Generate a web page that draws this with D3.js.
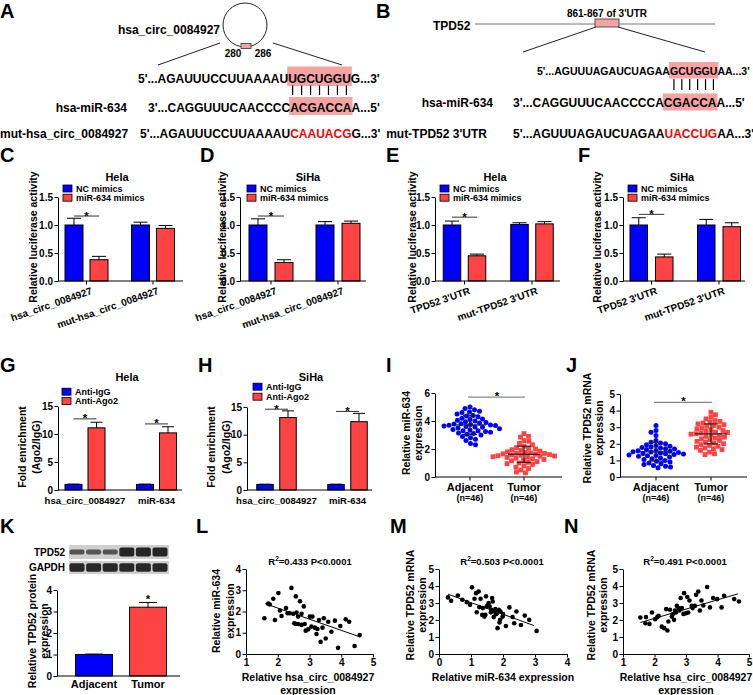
<!DOCTYPE html>
<html><head><meta charset="utf-8">
<script src="https://cdn.jsdelivr.net/npm/d3@7"></script>
<style>
body{margin:0;background:#fff}
svg{display:block}
text{font-family:"Liberation Sans",Arial,Helvetica,sans-serif;font-weight:bold;fill:#000}
</style>
</head><body><script>
// ---------------- DATA ----------------
const panelLetters=["A","B","C","D","E","F","G","H","I","J","K","L","M","N"];

// A / B sequences
const seqA_rows=[["5'...AGAUUUCCUUAAAAU","UGCUGGU","G...3'"],["3'...CAGGUUUCAACCCC","ACGACCA","A...5'"],["5'...AGAUUUCCUUAAAAU","CAAUACG","G...3'"]];
const seqA_labels=["hsa_circ_0084927","hsa-miR-634","mut-hsa_circ_0084927"];
const siteA=["280","286"];
const seqB_rows=[["5'...AGUUUAGAUCUAGAA","GCUGGU","AA...3'"],["3'...CAGGUUUCAACCCCA","CGACCA","A...5'"],["5'...AGUUUAGAUCUAGAA","UACCUG","AA...3'"]];
const seqB_labels=["TPD52","hsa-miR-634","mut-TPD52 3'UTR","861-867 of 3'UTR"];

// C-F luciferase
const lucGroupsCD=["hsa_circ_0084927","mut-hsa_circ_0084927"];
const lucGroupsEF=["TPD52 3'UTR","mut-TPD52 3'UTR"];
const lucSeries=["NC mimics","miR-634 mimics"];
const lucTicks=[0,0.5,1.0,1.5];
const lucC_mean=[[1.00,0.38],[1.00,0.94]], lucC_err=[[0.12,0.06],[0.05,0.05]];
const lucD_mean=[[1.00,0.33],[1.00,1.03]], lucD_err=[[0.11,0.05],[0.06,0.04]];
const lucE_mean=[[1.00,0.45],[1.01,1.02]], lucE_err=[[0.07,0.03],[0.03,0.04]];
const lucF_mean=[[1.00,0.43],[1.00,0.97]], lucF_err=[[0.13,0.05],[0.10,0.07]];

// G-H RIP
const ripGroups=["hsa_circ_0084927","miR-634"];
const ripSeries=["Anti-IgG","Anti-Ago2"];
const ripTicks=[0,5,10,15];
const ripG_mean=[[1.0,11.1],[1.0,10.2]], ripG_err=[[0.05,1.0],[0.05,1.1]];
const ripH_mean=[[1.0,13.1],[1.0,12.35]], ripH_err=[[0.05,1.2],[0.05,1.5]];

// I / J dot plots
const tissueGroups=["Adjacent","Tumor"];
const nLabels=["(n=46)","(n=46)"];
const iAdjacent=[5.0,4.9,4.8,4.7,4.65,4.6,4.5,4.4,4.35,4.3,4.2,4.15,4.1,4.05,4.0,3.95,3.9,3.85,3.8,3.78,3.75,3.72,3.7,3.68,3.65,3.6,3.58,3.55,3.5,3.45,3.4,3.35,3.3,3.3,3.25,3.2,3.15,3.1,3.05,3.0,2.9,2.8,2.7,2.6,2.4,2.3];
const iTumor=[3.1,2.9,2.85,2.6,2.55,2.4,2.3,2.2,2.1,2.05,2.0,1.95,1.9,1.85,1.8,1.75,1.72,1.7,1.68,1.65,1.62,1.6,1.58,1.55,1.52,1.5,1.48,1.45,1.42,1.4,1.35,1.3,1.25,1.2,1.15,1.1,1.05,1.0,0.95,0.9,0.8,0.7,0.6,0.5,0.35,0.3];
const iMean=[3.72,1.62], iSD=[0.68,0.58];
const jAdjacent=[3.1,2.8,2.7,2.5,2.2,2.1,2.05,2.0,1.95,1.9,1.85,1.8,1.78,1.75,1.7,1.68,1.65,1.6,1.58,1.55,1.52,1.5,1.48,1.45,1.42,1.4,1.38,1.35,1.32,1.3,1.28,1.25,1.2,1.15,1.1,1.05,1.0,0.95,0.9,0.85,0.8,0.75,0.7,0.65,0.6,0.55];
const jTumor=[3.9,3.75,3.6,3.5,3.4,3.35,3.3,3.25,3.2,3.15,3.1,3.05,3.0,2.95,2.9,2.85,2.8,2.75,2.7,2.68,2.65,2.6,2.58,2.55,2.5,2.45,2.4,2.35,2.3,2.25,2.2,2.15,2.1,2.05,2.0,1.95,1.9,1.85,1.8,1.75,1.7,1.65,1.6,1.5,1.4,1.35];
const jMean=[1.52,2.6], jSD=[0.56,0.6];

// K western blot + bars
const blotRows=["TPD52","GAPDH"];
const blotTPD52=[0.35,0.3,0.33,1,1,1];
const blotGAPDH=[0.95,0.95,0.95,0.95,0.95,0.95];
const kGroups=["Adjacent","Tumor"];
const kMean=[1.0,3.2], kErr=[0.02,0.22];
const kTicks=[0,1,2,3,4];

// L / M / N correlations
const lX=[1.58,1.70,1.75,1.86,2.02,1.91,2.12,2.07,2.26,2.43,2.57,2.70,2.82,2.38,2.49,2.59,2.64,2.75,2.57,2.64,2.75,2.85,2.88,2.96,3.01,3.09,3.17,3.22,3.30,3.41,3.45,3.35,3.51,3.59,3.69,3.80,3.90,3.97,4.14,4.25,4.42,4.58,2.31,3.06,2.52,3.25];
const lY=[1.68,2.37,2.33,2.60,2.87,1.60,1.79,2.05,2.16,3.11,2.71,2.48,2.24,1.92,1.89,1.95,1.76,1.89,1.41,1.41,1.37,1.41,1.10,1.16,1.76,1.76,1.24,0.94,1.60,1.24,1.68,0.57,0.73,1.52,1.05,1.57,0.29,1.32,1.63,1.52,0.38,0.89,1.92,1.29,1.45,1.18];
const lFit=[[1.6,2.37],[4.58,0.81]];
const mX=[0.28,0.38,0.59,0.73,0.87,0.97,1.03,1.11,1.16,1.24,1.18,1.26,1.30,1.37,1.42,1.45,1.49,1.47,1.55,1.58,1.63,1.66,1.68,1.71,1.73,1.76,1.78,1.81,1.83,1.89,1.87,1.91,1.99,2.09,2.20,2.30,2.35,2.42,2.56,2.68,2.82,3.05,1.35,1.62,2.00,1.92];
const mY=[3.33,3.13,3.44,3.19,3.05,2.89,3.92,3.25,3.58,3.68,2.46,2.76,3.25,2.70,2.20,2.30,2.80,3.39,2.99,2.80,2.60,3.29,3.09,2.17,2.50,2.64,2.34,2.40,1.52,1.85,2.60,2.01,2.20,1.65,2.74,2.17,1.81,2.50,1.71,2.26,2.01,1.36,2.30,2.45,2.35,2.50];
const mFit=[[0.28,3.52],[2.97,1.67]];
const nX=[1.55,1.71,1.73,1.84,1.92,2.02,2.09,2.13,2.23,2.31,2.37,2.41,2.44,2.49,2.55,2.58,2.62,2.68,2.71,2.76,2.79,2.83,2.87,2.92,2.94,3.00,3.04,3.07,3.11,3.18,3.21,3.28,3.32,3.39,3.44,3.49,3.55,3.67,3.76,3.86,3.99,4.13,4.21,4.53,4.68,2.65];
const nY=[2.15,1.81,2.17,1.77,2.44,2.05,2.17,2.24,1.61,1.52,2.64,1.38,1.91,2.60,2.20,2.34,2.01,2.44,2.83,2.70,2.56,3.29,2.70,2.36,3.58,2.40,3.35,2.44,3.15,2.83,2.70,2.83,3.48,3.68,2.56,3.15,2.85,3.94,2.74,3.29,3.23,2.74,3.43,3.23,3.09,2.55];
const nFit=[[1.55,1.85],[4.65,3.54]];
const corrStats=[["0.433","P<0.0001"],["0.503","P<0.0001"],["0.491","P<0.0001"]];

// ---------------- DRAW ----------------
const BLUE="#0000ff", RED="#ff4242", PINK="#f5a3a3";
const svg=d3.select("body").append("svg").attr("width",753).attr("height",695);
const meas=svg.append("text").attr("visibility","hidden");
function tw(s,fs){meas.attr("font-size",fs).text(s);return meas.node().getComputedTextLength();}

// panel letters
const letterPos=[[0,18],[376,18],[0,162],[200,162],[386,162],[578,162],[0,372],[198,372],[386,372],[566,372],[0,533],[196,533],[390,533],[564,533]];
svg.selectAll(".pl").data(panelLetters).join("text").attr("class","pl")
  .attr("x",(d,i)=>letterPos[i][0]).attr("y",(d,i)=>letterPos[i][1]).attr("font-size",20).text(d=>d);

function seqRow(g,x,y,segs,kind,opts){
  let fs=12;
  if(opts.len) fs=12*opts.len/tw(segs.join(""),12);
  const widths=segs.map(s=>tw(s,fs));
  const starts=[x,x+widths[0],x+widths[0]+widths[1]];
  if(kind==="hl"){
    g.append("rect").attr("x",starts[1]-1).attr("y",y+opts.top).attr("width",widths[1]+2).attr("height",opts.h).attr("fill",PINK);
  }
  segs.forEach((s,i)=>{
    g.append("text").attr("x",starts[i]).attr("y",y).attr("font-size",fs).text(s)
      .style("fill",(kind==="red"&&i===1)?"#ff0000":"#000");
  });
  return {x0:starts[1],w:widths[1],n:segs[1].length};
}

// ---- A
const gA=svg.append("g");
gA.append("circle").attr("cx",245).attr("cy",25).attr("r",22).attr("fill","none").attr("stroke","#222").attr("stroke-width",1);
gA.append("rect").attr("x",241).attr("y",43.5).attr("width",10).attr("height",5).attr("fill",PINK).attr("stroke","#333").attr("stroke-width",0.8);
gA.append("text").attr("x",233).attr("y",57).attr("font-size",10).attr("text-anchor","middle").text(siteA[0]);
gA.append("text").attr("x",263).attr("y",57).attr("font-size",10).attr("text-anchor","middle").text(siteA[1]);
gA.append("line").attr("x1",220).attr("y1",43).attr("x2",158).attr("y2",65).attr("stroke","#222");
gA.append("line").attr("x1",273).attr("y1",43).attr("x2",342).attr("y2",65).attr("stroke","#222");
gA.append("text").attr("x",220).attr("y",33.5).attr("font-size",12).attr("text-anchor","end").text(seqA_labels[0]);
const a1=seqRow(gA,138,82.5,seqA_rows[0],"hl",{top:-16,h:19.5});
seqRow(gA,148,111.5,seqA_rows[1],"hl",{top:-14.5,h:18});
seqRow(gA,140,137.5,seqA_rows[2],"red",{});
gA.append("text").attr("x",127).attr("y",111.5).attr("font-size",12).attr("text-anchor","end").text(seqA_labels[1]);
gA.append("text").attr("x",0).attr("y",137.5).attr("font-size",12).text(seqA_labels[2]);
d3.range(a1.n).forEach(i=>{const cx=a1.x0+(i+0.5)*a1.w/a1.n;
  gA.append("line").attr("x1",cx).attr("x2",cx).attr("y1",85.5).attr("y2",95).attr("stroke","#000").attr("stroke-width",1.2);});

// ---- B
const gB=svg.append("g");
gB.append("line").attr("x1",475).attr("x2",715).attr("y1",24).attr("y2",24).attr("stroke","#777").attr("stroke-width",1);
gB.append("rect").attr("x",595).attr("y",19).attr("width",24).attr("height",8).attr("fill",PINK).attr("stroke","#333").attr("stroke-width",0.8);
gB.append("text").attr("x",607).attr("y",16.5).attr("font-size",10).attr("text-anchor","middle").text(seqB_labels[3]);
gB.append("text").attr("x",433).attr("y",29.5).attr("font-size",12).text(seqB_labels[0]);
gB.append("line").attr("x1",596).attr("y1",27).attr("x2",523).attr("y2",52).attr("stroke","#222");
gB.append("line").attr("x1",618).attr("y1",27).attr("x2",705).attr("y2",52).attr("stroke","#222");
const b1=seqRow(gB,537,74.5,seqB_rows[0],"hl",{top:-12.5,h:16.5,len:213});
seqRow(gB,513,106.5,seqB_rows[1],"hl",{top:-13,h:17});
seqRow(gB,513,137.5,seqB_rows[2],"red",{});
gB.append("text").attr("x",493).attr("y",106.5).attr("font-size",12).attr("text-anchor","end").text(seqB_labels[1]);
gB.append("text").attr("x",487).attr("y",137.5).attr("font-size",12).attr("text-anchor","end").text(seqB_labels[2]);
d3.range(b1.n).forEach(i=>{const cx=b1.x0+(i+0.5)*b1.w/b1.n;
  gB.append("line").attr("x1",cx).attr("x2",cx).attr("y1",79).attr("y2",90).attr("stroke","#000").attr("stroke-width",1.2);});

// ---- axis helpers
function styleAxis(a,fs){
  a.attr("font-family",null).attr("font-size",null);
  a.selectAll("text").attr("font-size",fs||10).style("fill","#000");
  a.selectAll("line,path").attr("stroke","#000").attr("stroke-width",1);
}
function leftAxis(g,x,ys,ticks,fmt){
  const a=g.append("g").attr("transform",`translate(${x},0)`)
    .call(d3.axisLeft(ys).tickValues(ticks).tickFormat(fmt).tickSize(3.5).tickSizeOuter(0).tickPadding(1.5));
  styleAxis(a,10);return a;
}
function bottomAxis(g,y,xs,ticks,fmt){
  const a=g.append("g").attr("transform",`translate(0,${y})`)
    .call(d3.axisBottom(xs).tickValues(ticks).tickFormat(fmt).tickSize(3.5).tickSizeOuter(0).tickPadding(1.5));
  styleAxis(a,10);return a;
}
function yTitle(g,lines,xs,cy,fs){
  lines.forEach((l,i)=>g.append("text").attr("font-size",fs).attr("text-anchor","middle")
    .attr("transform",`translate(${xs[i]+4},${cy}) rotate(-90)`).text(l));
}
function legend(g,x,ys,items,colors){
  items.forEach((it,i)=>{
    g.append("rect").attr("x",x).attr("y",ys[i]-3.5).attr("width",9).attr("height",7).attr("fill",colors[i]).attr("stroke","#000").attr("stroke-width",0.8);
    g.append("text").attr("x",x+13).attr("y",ys[i]+3.2).attr("font-size",9).text(it);
  });
}

// ---- grouped bar panels
function barPanel(c){
  const g=svg.append("g");
  const ys=d3.scaleLinear().domain([0,c.max]).range([c.y0,c.yTop]);
  const gx=d3.scalePoint().domain(c.groups).range(c.centers);
  const tot=2*c.bw+c.gap;
  const sx=d3.scaleBand().domain(c.series).range([-tot/2,tot/2]).paddingInner(c.gap/(c.bw+c.gap)).paddingOuter(0);
  const cols=[BLUE,RED];
  const data=[];
  c.groups.forEach((gr,gi)=>c.series.forEach((s,si)=>data.push({gr,s,si,v:c.mean[gi][si],e:c.err[gi][si]})));
  g.selectAll(".bar").data(data).join("rect")
    .attr("x",d=>gx(d.gr)+sx(d.s)).attr("width",sx.bandwidth())
    .attr("y",d=>ys(d.v)).attr("height",d=>c.y0-ys(d.v))
    .attr("fill",d=>cols[d.si]).attr("stroke","#000").attr("stroke-width",1);
  data.forEach(d=>{
    const cx=gx(d.gr)+sx(d.s)+sx.bandwidth()/2;
    g.append("line").attr("x1",cx).attr("x2",cx).attr("y1",ys(d.v)).attr("y2",ys(d.v+d.e)).attr("stroke","#000");
    g.append("line").attr("x1",cx-c.cap/2).attr("x2",cx+c.cap/2).attr("y1",ys(d.v+d.e)).attr("y2",ys(d.v+d.e)).attr("stroke","#000");
  });
  leftAxis(g,c.x0,ys,c.ticks,c.fmt);
  g.append("line").attr("x1",c.x0).attr("x2",c.x1).attr("y1",c.y0).attr("y2",c.y0).attr("stroke","#000");
  if(c.xticks) c.groups.forEach(gr=>g.append("line").attr("x1",gx(gr)).attr("x2",gx(gr)).attr("y1",c.y0).attr("y2",c.y0+3.5).attr("stroke","#000"));
  c.sig.forEach(sg=>{
    const gr=c.groups[sg[0]];
    const xa=gx(gr)+sx(c.series[0])+sx.bandwidth()/2, xb=gx(gr)+sx(c.series[1])+sx.bandwidth()/2;
    g.append("line").attr("x1",xa).attr("x2",xb).attr("y1",ys(sg[1])).attr("y2",ys(sg[1])).attr("stroke","#333").attr("stroke-width",1);
    g.append("text").attr("x",(xa+xb)/2).attr("y",ys(sg[1])+3.5).attr("font-size",11.5).attr("text-anchor","middle").text("*");
  });
  g.append("text").attr("x",c.titleX).attr("y",c.titleY).attr("font-size",11).attr("text-anchor","middle").text(c.title);
  legend(g,c.legX,c.legY,c.series,cols);
  yTitle(g,c.yTitle,c.yTitleX,c.yTitleY,10.5);
  if(c.rot){
    g.selectAll(".xl").data(c.groups).join("text").attr("font-size",10).attr("text-anchor","end")
      .attr("transform",d=>`translate(${gx(d)+4},${c.y0+6}) rotate(-19)`).attr("dy","0.71em").text(d=>d);
  } else {
    g.selectAll(".xl").data(c.groups).join("text").attr("font-size",9.5).attr("text-anchor","middle")
      .attr("x",d=>gx(d)).attr("y",c.y0+14).text(d=>d);
  }
}
const fmt1=d3.format(".1f"), fmt0=d3.format("d");
const lucCommon={series:lucSeries,max:1.5,ticks:lucTicks,fmt:fmt1,y0:281,yTop:197,cap:14,titleY:180.5,legY:[188.5,197.7],yTitle:["Relative luciferase activity"],yTitleY:237,xticks:true,rot:true};
barPanel({...lucCommon,groups:lucGroupsCD,mean:lucC_mean,err:lucC_err,sig:[[0,1.16]],x0:58,x1:183,centers:[86.5,153],bw:18,gap:7,title:"Hela",titleX:117,legX:63,yTitleX:[33]});
barPanel({...lucCommon,groups:lucGroupsCD,mean:lucD_mean,err:lucD_err,sig:[[0,1.16]],x0:240,x1:366,centers:[271,338],bw:18,gap:8,title:"SiHa",titleX:308,legX:247,yTitleX:[222]});
barPanel({...lucCommon,groups:lucGroupsEF,mean:lucE_mean,err:lucE_err,sig:[[0,1.14]],x0:435,x1:560,centers:[464.5,532],bw:17.5,gap:7.5,title:"Hela",titleX:495,legX:440,yTitleX:[412]});
barPanel({...lucCommon,groups:lucGroupsEF,mean:lucF_mean,err:lucF_err,sig:[[0,1.19]],x0:623,x1:745,centers:[651.5,719],bw:17.5,gap:8,title:"SiHa",titleX:682,legX:628,yTitleX:[597]});
const ripCommon={series:ripSeries,max:15,ticks:ripTicks,fmt:fmt0,y0:490,cap:12,titleY:381,yTitle:["Fold enrichment","(Ago2/IgG)"],yTitleY:447,xticks:false,rot:false};
barPanel({...ripCommon,groups:ripGroups,mean:ripG_mean,err:ripG_err,sig:[[0,12.7],[1,11.8]],x0:58,x1:182,yTop:406,centers:[85,156.5],bw:17,gap:6,title:"Hela",titleX:127,legX:62,legY:[391.7,401],yTitleX:[22,36]});
barPanel({...ripCommon,groups:ripGroups,mean:ripH_mean,err:ripH_err,sig:[[0,14.6],[1,14.2]],x0:247,x1:372,yTop:407,centers:[276.5,347.5],bw:16.5,gap:6.5,title:"SiHa",titleX:311,legX:253,legY:[386.7,396.7],yTitleX:[211,226]});

// ---- dot plots I, J
function swarm(vals,ys,cx,d){
  const placed=[];
  const order=vals.map((v,i)=>i).sort((a,b)=>vals[b]-vals[a]);
  order.forEach(i=>{
    const y=ys(vals[i]);
    let best=null;
    for(let k=0;k<400 && best===null;k++){
      const offs=k===0?[0]:(k%2?[k*0.5,-k*0.5]:[-k*0.5,k*0.5]);
      for(const o of offs){
        if(placed.every(p=>(p.x-(cx+o))**2+(p.y-y)**2>=d*d)){best=o;break;}
      }
    }
    placed.push({x:cx+best,y,v:vals[i]});
  });
  return placed;
}
function dotPanel(c){
  const g=svg.append("g");
  const ys=d3.scaleLinear().domain([0,c.max]).range([c.y0,c.yTop]);
  const gx=d3.scalePoint().domain(tissueGroups).range(c.centers);
  leftAxis(g,c.x0,ys,c.ticks,fmt0);
  g.append("line").attr("x1",c.x0).attr("x2",c.x1).attr("y1",c.y0).attr("y2",c.y0).attr("stroke","#000");
  tissueGroups.forEach(t=>g.append("line").attr("x1",gx(t)).attr("x2",gx(t)).attr("y1",c.y0).attr("y2",c.y0+3.5).attr("stroke","#000"));
  const pa=swarm(c.adj,ys,gx("Adjacent"),c.sep);
  const pt=swarm(c.tum,ys,gx("Tumor"),c.sep);
  g.selectAll(".da").data(pa).join("circle").attr("cx",d=>d.x).attr("cy",d=>d.y).attr("r",2.5).attr("fill",BLUE);
  g.selectAll(".dt").data(pt).join("rect").attr("x",d=>d.x-2.4).attr("y",d=>d.y-2.4).attr("width",4.8).attr("height",4.8).attr("fill",RED);
  tissueGroups.forEach((t,i)=>{
    const cx=gx(t), m=c.mean[i], s=c.sd[i];
    g.append("line").attr("x1",cx-16).attr("x2",cx+16).attr("y1",ys(m)).attr("y2",ys(m)).attr("stroke","#222").attr("stroke-width",1.2);
    g.append("line").attr("x1",cx).attr("x2",cx).attr("y1",ys(m-s)).attr("y2",ys(m+s)).attr("stroke","#222").attr("stroke-width",1.2);
    [m-s,m+s].forEach(v=>g.append("line").attr("x1",cx-7).attr("x2",cx+7).attr("y1",ys(v)).attr("y2",ys(v)).attr("stroke","#222").attr("stroke-width",1.2));
    g.append("text").attr("x",cx).attr("y",c.y0+14).attr("font-size",11).attr("text-anchor","middle").text(t);
    g.append("text").attr("x",cx).attr("y",c.y0+24).attr("font-size",9).attr("font-weight","normal").attr("text-anchor","middle").text(nLabels[i]);
  });
  g.append("line").attr("x1",gx("Adjacent")-2).attr("x2",gx("Tumor")+1).attr("y1",ys(c.sig)).attr("y2",ys(c.sig)).attr("stroke","#888").attr("stroke-width",1.2);
  g.append("text").attr("x",(gx("Adjacent")+gx("Tumor"))/2).attr("y",ys(c.sig)+3).attr("font-size",11.5).attr("text-anchor","middle").text("*");
  yTitle(g,c.yTitle,c.yTitleX,c.yTitleY,10.5);
}
dotPanel({adj:iAdjacent,tum:iTumor,mean:iMean,sd:iSD,max:6,ticks:[0,2,4,6],y0:477,yTop:393,x0:435,x1:562,centers:[470,524],sig:5.7,sep:4.9,yTitle:["Relative miR-634","expression"],yTitleX:[406,418],yTitleY:433});
dotPanel({adj:jAdjacent,tum:jTumor,mean:jMean,sd:jSD,max:5,ticks:[0,1,2,3,4,5],y0:477,yTop:394,x0:620,x1:747,centers:[656,711],sig:4.5,sep:4.9,yTitle:["Relative TPD52 mRNA","expression"],yTitleX:[587,599],yTitleY:428});

// ---- K
(function(){
  const g=svg.append("g");
  const defs=svg.append("defs");
  defs.append("filter").attr("id","blur").append("feGaussianBlur").attr("stdDeviation",0.7);
  const lane=d3.scalePoint().domain(d3.range(6)).range([77,160]);
  const rowY=[545,561], rowH=[14,13];
  [blotTPD52,blotGAPDH].forEach((arr,ri)=>{
    g.append("rect").attr("x",69).attr("y",rowY[ri]).attr("width",100).attr("height",rowH[ri]).attr("fill","#cfcfcf");
    g.selectAll(null).data(arr).join("rect")
      .attr("x",(d,i)=>lane(i)-7.5).attr("width",15)
      .attr("y",d=>rowY[ri]+rowH[ri]/2-(1.5+3*d)).attr("height",d=>3+6*d).attr("rx",2)
      .attr("fill","#1c1c1c").attr("opacity",d=>0.55+0.4*d).attr("filter","url(#blur)");
    g.append("text").attr("x",65).attr("y",rowY[ri]+rowH[ri]/2+3.5).attr("font-size",10).attr("text-anchor","end").text(blotRows[ri]);
  });
  const ys=d3.scaleLinear().domain([0,4]).range([676,590]);
  const gx=d3.scalePoint().domain(kGroups).range([94,148]);
  const bw=37;
  g.selectAll(".kb").data(kGroups).join("rect").attr("x",d=>gx(d)-bw/2).attr("width",bw)
    .attr("y",(d,i)=>ys(kMean[i])).attr("height",(d,i)=>676-ys(kMean[i]))
    .attr("fill",(d,i)=>[BLUE,RED][i]).attr("stroke","#000");
  kGroups.forEach((t,i)=>{
    const cx=gx(t), top=ys(kMean[i]+kErr[i]);
    g.append("line").attr("x1",cx).attr("x2",cx).attr("y1",ys(kMean[i])).attr("y2",top).attr("stroke","#000");
    g.append("line").attr("x1",cx-9).attr("x2",cx+9).attr("y1",top).attr("y2",top).attr("stroke","#000");
    g.append("text").attr("x",cx).attr("y",688).attr("font-size",11).attr("text-anchor","middle").text(t);
  });
  g.append("text").attr("x",gx("Tumor")).attr("y",ys(kMean[1]+kErr[1])+1).attr("font-size",11.5).attr("text-anchor","middle").text("*");
  leftAxis(g,57,ys,kTicks,fmt0);
  g.append("line").attr("x1",57).attr("x2",180).attr("y1",676).attr("y2",676).attr("stroke","#000");
  yTitle(g,["Relative TPD52 protein","expression"],[32,44],631,10.5);
})();

// ---- scatter L M N
function scatterPanel(c){
  const g=svg.append("g");
  const xs=d3.scaleLinear().domain(c.xd).range([c.xr0,c.xr1]);
  const ys=d3.scaleLinear().domain(c.yd).range([654,569]);
  leftAxis(g,c.xr0,ys,c.yt,fmt0);
  bottomAxis(g,654,xs,c.xt,fmt0);
  g.selectAll(".pt").data(d3.zip(c.px,c.py)).join("circle").attr("cx",d=>xs(d[0])).attr("cy",d=>ys(d[1])).attr("r",2.3).attr("fill","#000");
  g.append("line").attr("x1",xs(c.fit[0][0])).attr("y1",ys(c.fit[0][1])).attr("x2",xs(c.fit[1][0])).attr("y2",ys(c.fit[1][1])).attr("stroke","#000").attr("stroke-width",1);
  const t=g.append("text").attr("x",c.titleX).attr("y",565).attr("font-size",9.5).attr("text-anchor","middle");
  t.append("tspan").text("R");
  t.append("tspan").attr("font-size",6.5).attr("dy",-4).text("2");
  t.append("tspan").attr("dy",4).text("="+c.stat[0]+" "+c.stat[1]);
  c.xTitle.forEach((l,i)=>g.append("text").attr("x",c.xTitleX).attr("y",681+12.5*i).attr("font-size",10.5).attr("text-anchor","middle").text(l));
  yTitle(g,c.yTitle,c.yTitleX,c.yTitleY,10.5);
}
scatterPanel({xd:[1,5],xr0:246,xr1:373,yd:[0,4],xt:[1,2,3,4,5],yt:[0,1,2,3,4],px:lX,py:lY,fit:lFit,stat:corrStats[0],titleX:310,xTitle:["Relative hsa_circ_0084927","expression"],xTitleX:308,yTitle:["Relative miR-634","expression"],yTitleX:[216,230],yTitleY:611});
scatterPanel({xd:[0,4],xr0:439,xr1:567,yd:[0,5],xt:[0,1,2,3,4],yt:[0,1,2,3,4,5],px:mX,py:mY,fit:mFit,stat:corrStats[1],titleX:502,xTitle:["Relative miR-634 expression"],xTitleX:503,yTitle:["Relative TPD52 mRNA","expression"],yTitleX:[410,422],yTitleY:605});
scatterPanel({xd:[1,5],xr0:623,xr1:749,yd:[0,5],xt:[1,2,3,4,5],yt:[0,1,2,3,4,5],px:nX,py:nY,fit:nFit,stat:corrStats[2],titleX:685,xTitle:["Relative hsa_circ_0084927","expression"],xTitleX:686,yTitle:["Relative TPD52 mRNA","expression"],yTitleX:[591,603],yTitleY:605});
meas.remove();
</script></body></html>
